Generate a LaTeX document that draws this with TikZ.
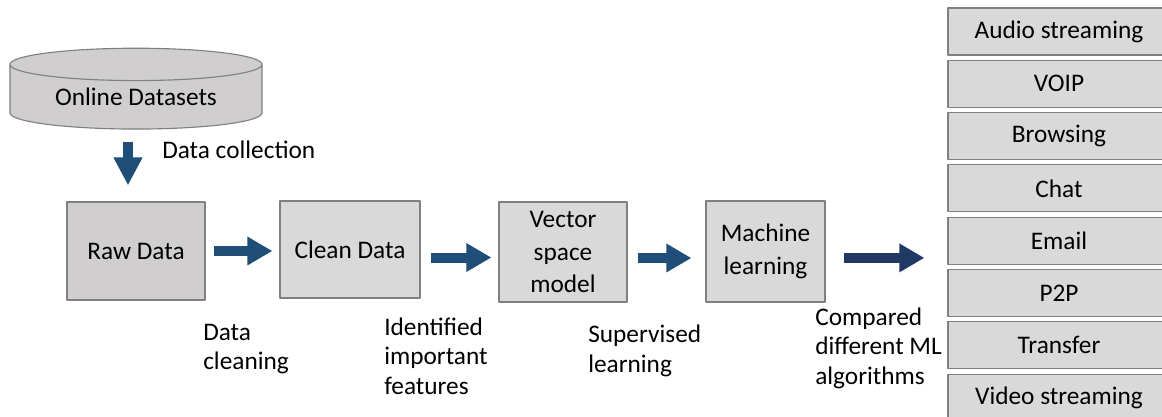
\documentclass[tikz,border=0pt]{standalone}
\usepackage{fontspec}
\setmainfont{Carlito}
\usetikzlibrary{arrows.meta,shapes.geometric}
\definecolor{boxgray}{RGB}{217,217,217}
\definecolor{rawgray}{RGB}{208,206,206}
\definecolor{edgegray}{RGB}{128,128,128}
\definecolor{flowblue}{RGB}{31,78,121}
\definecolor{flownavy}{RGB}{32,56,100}
\begin{document}
\begin{tikzpicture}[x=0.025cm,y=-0.025cm,font=\fontsize{18}{21}\selectfont,line join=round,
	stage/.style={draw=edgegray,line width=0.8pt,fill=boxgray,align=center,inner sep=0pt,font=\fontsize{18}{23}\selectfont},
	cls/.style={stage,minimum width=5.55cm,minimum height=1.175cm},
	flow/.style={draw=flowblue,line width=0.25cm,-{Triangle[length=0.625cm,width=0.675cm]}},
	note/.style={anchor=west,align=left,inner sep=0pt}]
	\useasboundingbox (0,0) rectangle (1162,416);
	\node[stage,cylinder,shape border rotate=90,aspect=0.2,fill=rawgray,minimum width=6.3cm,minimum height=2.02cm] (ods) at (136,97) {Online Datasets};
	\node[stage,fill=rawgray,minimum width=3.45cm,minimum height=2.45cm] (raw) at (136,251) {Raw Data};
	\node[stage,minimum width=3.5cm,minimum height=2.425cm] (clean) at (350,249.5) {Clean Data};
	\node[stage,minimum width=3.2cm,minimum height=2.5cm] (vsm) at (563,252) {Vector\\space\\model};
	\node[stage,minimum width=2.975cm,minimum height=2.525cm] (ml) at (765.5,251.5) {Machine\\learning};
	\foreach \t [count=\i from 0] in {Audio streaming,VOIP,Browsing,Chat,Email,P2P,Transfer,Video streaming}
	{
		\node[cls] (cls\i) at (1059,31.5+52.3*\i) {\t};
	}
	\draw[flow,-{Triangle[length=0.7cm,width=0.675cm]},shorten <=0.3cm,shorten >=0.4cm] ([xshift=-0.2cm]ods.south) -- ([xshift=-0.2cm]raw.north);
	\draw[flow,shorten <=0.2cm,shorten >=0.175cm] (raw.east) -- (raw.east -| clean.west);
	\draw[flow,shorten <=0.25cm,shorten >=0.175cm] ([yshift=-0.2cm]clean.east) -- ([yshift=-0.2cm]clean.east -| vsm.west);
	\draw[flow,shorten <=0.25cm,shorten >=0.35cm] ([yshift=-0.15cm]vsm.east) -- ([yshift=-0.15cm]vsm.east -| ml.west);
	\draw[flow,draw=flownavy,shorten <=0.45cm,shorten >=0.575cm] ([yshift=-0.16cm]ml.east) -- ([yshift=-0.16cm]ml.east -| cls4.west);
	\node[note] (collect) at (162,150) {Data collection};
	\node[note] (cleaning) at (203,349) {Data\\cleaning};
	\node[note] (features) at (384,356) {Identified\\important\\features};
	\node[note] (supervised) at (588,351) {Supervised\\learning};
	\node[note] (compared) at (815,348) {Compared\\different ML\\algorithms};
\end{tikzpicture}
\end{document}
